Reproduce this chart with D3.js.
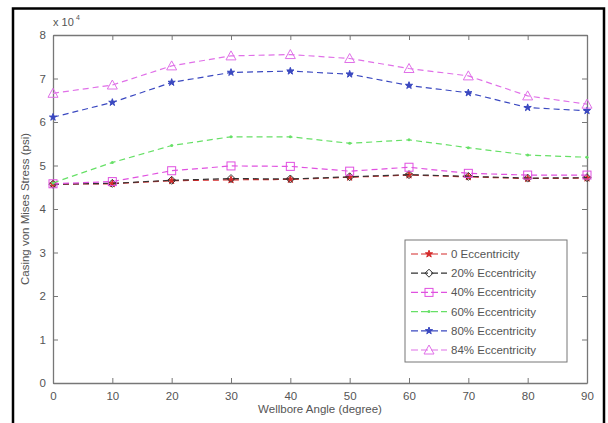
<!DOCTYPE html>
<html><head><meta charset="utf-8">
<script src="https://cdn.jsdelivr.net/npm/d3@7"></script>
<style>html,body{margin:0;padding:0;background:#fff}svg{display:block}</style>
</head><body>
<script>
const angles = [0,10,20,30,40,50,60,70,80,90];
const ecc0   = [45700,45800,46500,46700,46800,47300,47800,47400,47000,47100];
const ecc20  = [45700,45900,46600,47000,46900,47400,47900,47500,47100,47200];
const ecc40  = [45800,46300,48800,49900,49800,48700,49600,48200,47800,47800];
const ecc60  = [46000,50700,54600,56600,56600,55100,55900,54100,52400,51900];
const ecc80  = [61100,64500,69100,71400,71700,71000,68400,66700,63300,62600];
const ecc84  = [66600,68500,72900,75200,75500,74600,72300,70600,66000,64100];
const seriesNames = ["0  Eccentricity","20% Eccentricity","40% Eccentricity","60% Eccentricity","80% Eccentricity","84% Eccentricity"];
const xTicks = [0,10,20,30,40,50,60,70,80,90];
const yTicks = [0,10000,20000,30000,40000,50000,60000,70000,80000];

const W=608,H=423;
const svg=d3.select("body").append("svg").attr("width",W).attr("height",H);
svg.append("rect").attr("width",W).attr("height",H).attr("fill","#fff");
svg.append("path").attr("d","M13,430 L13,8.5 L604,8.5 L604,430").attr("fill","none").attr("stroke","#000").attr("stroke-width",2.5);

const L=53,R=587,T=35,B=383;
const x=d3.scaleLinear().domain([0,90]).range([L,R]);
const y=d3.scaleLinear().domain([0,80000]).range([B,T]);
const axCol="#777", txtCol="#555";
const font="'Liberation Sans', Arial, sans-serif";

const gx=svg.append("g").attr("transform",`translate(0,${B})`)
  .call(d3.axisBottom(x).tickValues(xTicks).tickSizeInner(-5).tickSizeOuter(0).tickPadding(9));
const gxt=svg.append("g").attr("transform",`translate(0,${T})`)
  .call(d3.axisTop(x).tickValues(xTicks).tickSizeInner(-5).tickSizeOuter(0).tickFormat(""));
const gy=svg.append("g").attr("transform",`translate(${L},0)`)
  .call(d3.axisLeft(y).tickValues(yTicks).tickSizeInner(-5).tickSizeOuter(0).tickPadding(7).tickFormat(d=>d/10000));
const gyr=svg.append("g").attr("transform",`translate(${R},0)`)
  .call(d3.axisRight(y).tickValues(yTicks).tickSizeInner(-5).tickSizeOuter(0).tickFormat(""));
[gx,gxt,gy,gyr].forEach(g=>{
  g.selectAll("path.domain").attr("stroke",axCol).attr("stroke-width",1.3);
  g.selectAll("line").attr("stroke",axCol);
  g.selectAll("text").attr("fill",txtCol).style("font-family",font).style("font-size","11.5px");
});

svg.append("text").attr("x",53).attr("y",26).attr("fill",txtCol).style("font-family",font).style("font-size","11px").text("x 10");
svg.append("text").attr("x",76).attr("y",20).attr("fill",txtCol).style("font-family",font).style("font-size","7px").text("4");

svg.append("text").attr("x",320).attr("y",413).attr("text-anchor","middle").attr("fill",txtCol)
  .style("font-family",font).style("font-size","11.5px").text("Wellbore Angle (degree)");
svg.append("text").attr("transform","translate(29,209) rotate(-90)").attr("text-anchor","middle").attr("fill",txtCol)
  .style("font-family",font).style("font-size","11.5px").text("Casing von Mises Stress (psi)");

const series=[
  {name:seriesNames[0],vals:ecc0,color:"#d42a2a",marker:"star"},
  {name:seriesNames[1],vals:ecc20,color:"#333333",marker:"diamond"},
  {name:seriesNames[2],vals:ecc40,color:"#e050e0",marker:"square"},
  {name:seriesNames[3],vals:ecc60,color:"#66e066",marker:"dot"},
  {name:seriesNames[4],vals:ecc80,color:"#3a48c0",marker:"star"},
  {name:seriesNames[5],vals:ecc84,color:"#e070e8",marker:"triangle"}
];

function drawMarker(g,type,cx,cy,color){
  if(type==="square") g.append("rect").attr("x",cx-4).attr("y",cy-4).attr("width",8).attr("height",8).attr("fill","none").attr("stroke",color);
  else if(type==="triangle") g.append("path").attr("d",`M${cx},${cy-5} L${cx+5},${cy+4} L${cx-5},${cy+4} Z`).attr("fill","none").attr("stroke",color);
  else if(type==="diamond") g.append("path").attr("d",`M${cx},${cy-4} L${cx+4},${cy} L${cx},${cy+4} L${cx-4},${cy} Z`).attr("fill","none").attr("stroke",color);
  else if(type==="star") g.append("path").attr("d",d3.symbol(d3.symbolStar,16)()).attr("transform",`translate(${cx},${cy})`).attr("fill",color).attr("stroke",color).attr("stroke-width",1);
  else g.append("circle").attr("cx",cx).attr("cy",cy).attr("r",1.5).attr("fill",color);
}

const line=d3.line().x((d,i)=>x(angles[i])).y(d=>y(d));
series.forEach(s=>{
  svg.append("path").datum(s.vals).attr("d",line).attr("fill","none").attr("stroke",s.color)
    .attr("stroke-width",1.2).attr("stroke-dasharray","6,4");
  const g=svg.append("g");
  s.vals.forEach((v,i)=>drawMarker(g,s.marker,x(angles[i]),y(v),s.color));
});

const lg=svg.append("g");
lg.append("rect").attr("x",405).attr("y",240).attr("width",162).attr("height",122).attr("fill","#fff").attr("stroke",axCol);
series.forEach((s,i)=>{
  const yy=254+i*19.2;
  lg.append("line").attr("x1",411).attr("x2",447).attr("y1",yy).attr("y2",yy).attr("stroke",s.color).attr("stroke-width",1.2).attr("stroke-dasharray","7,3");
  drawMarker(lg,s.marker,429,yy,s.color);
  lg.append("text").attr("x",451).attr("y",yy+4).attr("fill",txtCol).style("font-family",font).style("font-size","11.5px").text(s.name);
});
</script>
</body></html>
